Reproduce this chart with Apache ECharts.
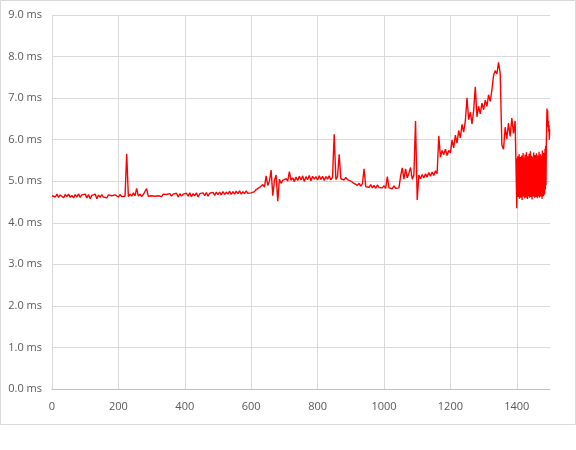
<!DOCTYPE html>
<html>
<head>
<meta charset="utf-8">
<script src="https://cdn.jsdelivr.net/npm/echarts@6/dist/echarts.min.js"></script>
<style>
  html, body { margin: 0; padding: 0; background: #fff; }
  #main { width: 576px; height: 450px; }
</style>
</head>
<body>
<div id="main"></div>
<script>
// y values in ms, one array per stretch of the x axis
// x 0..595, step 5
const flatStart = [
  4.65, 4.68, 4.62, 4.69, 4.61, 4.67, 4.70, 4.60, 4.68, 4.63,
  4.69, 4.61, 4.66, 4.60, 4.68, 4.62, 4.70, 4.61, 4.67, 4.63,
  4.69, 4.60, 4.68, 4.58, 4.66, 4.62, 4.69, 4.58, 4.67, 4.61,
  4.68, 4.62, 4.66, 4.60, 4.67, 4.63, 4.65, 4.61, 4.67, 4.64,
  4.62, 4.68, 4.63, 4.66, 4.64, 5.66, 4.63, 4.69, 4.64, 4.72,
  4.65, 4.83, 4.64, 4.69, 4.63, 4.68, 4.65, 4.82, 4.64, 4.67,
  4.65, 4.68, 4.64, 4.67, 4.65, 4.68, 4.63, 4.69, 4.65, 4.68,
  4.64, 4.70, 4.64, 4.69, 4.65, 4.71, 4.62, 4.70, 4.64, 4.69,
  4.66, 4.71, 4.64, 4.72, 4.63, 4.70, 4.65, 4.72, 4.62, 4.70,
  4.66, 4.72, 4.65, 4.73, 4.64, 4.71, 4.67, 4.73, 4.66, 4.74,
  4.68, 4.74, 4.67, 4.75, 4.68, 4.74, 4.69, 4.76, 4.68, 4.75,
  4.69, 4.76, 4.70, 4.77, 4.69, 4.75, 4.70, 4.77, 4.71, 4.74
];
// x 600..995, step 5
const middle = [
  4.72, 4.76, 4.75, 4.80, 4.79, 4.85, 4.84, 4.92, 4.86, 5.13,
  4.90, 5.00, 5.27, 4.65, 5.02, 5.15, 4.52, 5.05, 4.95, 5.02,
  4.98, 5.06, 5.00, 5.23, 5.02, 5.08, 4.99, 5.10, 5.02, 5.12,
  5.03, 5.13, 4.99, 5.11, 5.04, 5.14, 5.01, 5.12, 5.05, 5.11,
  5.03, 5.13, 5.04, 5.12, 5.02, 5.11, 5.05, 5.13, 5.03, 5.10,
  6.13, 5.04, 5.11, 5.65, 5.06, 5.10, 5.03, 5.09, 5.04, 5.08,
  5.00, 5.03, 4.95, 4.98, 4.90, 4.95, 4.88, 4.94, 5.30, 4.87,
  4.91, 4.85, 4.92, 4.84, 4.90, 4.83, 4.91, 4.85, 4.89, 4.84
];
// x 1000..1395, step 5
const rising = [
  4.89, 4.83, 5.11, 4.84, 4.88, 4.82, 4.89, 4.83, 4.87, 4.84,
  5.12, 5.32, 5.05, 5.30, 5.08, 5.20, 5.33, 5.05, 5.15, 6.45,
  4.55, 5.15, 5.06, 5.16, 5.08, 5.18, 5.10, 5.21, 5.12, 5.22,
  5.14, 5.25, 5.18, 6.09, 5.58, 5.74, 5.64, 5.77, 5.62, 5.74,
  5.68, 5.99, 5.80, 6.11, 5.92, 6.22, 6.04, 6.37, 6.18, 6.45,
  7.01, 6.48, 6.66, 6.38, 6.70, 7.27, 6.55, 6.80, 6.62, 6.88,
  6.72, 6.95, 6.80, 7.08, 6.92, 7.20, 7.55, 7.66, 7.58, 7.86,
  7.60, 5.87, 5.77, 6.30, 6.02, 6.40, 6.08, 6.52, 6.15, 6.45
];
// x 1400..1499, step 1
const noisyEnd = [
  4.35,
  5.55, 4.70, 5.60, 4.62, 5.45, 4.75, 5.65, 4.58, 5.50, 4.68,
  5.58, 4.60, 5.40, 4.72, 5.62, 4.55, 5.52, 4.66, 5.68, 4.63,
  5.47, 4.74, 5.57, 4.59, 5.64, 4.69, 5.42, 4.61, 5.70, 4.65,
  5.53, 4.57, 5.60, 4.71, 5.48, 4.64, 5.66, 4.60, 5.55, 4.73,
  5.72, 4.62, 5.50, 4.67, 5.61, 4.56, 5.58, 4.70, 5.45, 4.63,
  5.69, 4.66, 5.54, 4.60, 5.63, 4.74, 5.51, 4.62, 5.67, 4.65,
  5.56, 4.59, 5.62, 4.70, 5.49, 4.64, 5.71, 4.61, 5.58, 4.68,
  5.65, 4.63, 5.52, 4.66, 5.60, 4.58, 5.74, 4.72, 5.57, 4.64,
  5.68, 4.67, 5.62, 4.70, 5.78, 4.80, 5.85, 4.90,
  5.90, 6.40, 6.75, 6.55, 6.70, 6.30, 6.45, 6.20, 6.35, 6.00, 6.25
];

const segments = [
  { start: 0, step: 5, values: flatStart },
  { start: 600, step: 5, values: middle },
  { start: 1000, step: 5, values: rising },
  { start: 1400, step: 1, values: noisyEnd }
];

const points = [];
segments.forEach(function (seg) {
  seg.values.forEach(function (v, i) {
    points.push([seg.start + i * seg.step, v]);
  });
});

const chart = echarts.init(document.getElementById('main'));
const labelFont = {
  color: '#595959',
  fontSize: 11,
  fontFamily: 'Open Sans'
};

chart.setOption({
  animation: false,
  backgroundColor: '#fff',
  graphic: [
    {
      type: 'rect',
      shape: { x: 0.5, y: 0.5, width: 575, height: 424 },
      style: { fill: 'none', stroke: '#d9d9d9', lineWidth: 1 },
      silent: true
    }
  ],
  grid: {
    left: 52,
    right: 26,
    top: 15,
    bottom: 61
  },
  xAxis: {
    type: 'value',
    min: 0,
    max: 1500,
    interval: 200,
    axisLine: { show: true, lineStyle: { color: '#bfbfbf' } },
    axisTick: { show: false },
    axisLabel: Object.assign({
      margin: 12,
      showMaxLabel: false,
      formatter: function (v) {
        return String(v);
      }
    }, labelFont),
    splitLine: {
      show: true,
      showMaxLine: false,
      lineStyle: { color: '#d9d9d9' }
    }
  },
  yAxis: {
    type: 'value',
    min: 0,
    max: 9,
    interval: 1,
    axisLine: { show: false },
    axisTick: { show: false },
    axisLabel: Object.assign({
      margin: 10,
      formatter: function (v) {
        return v.toFixed(1) + ' ms';
      }
    }, labelFont),
    splitLine: { lineStyle: { color: '#d9d9d9' } }
  },
  series: [
    {
      type: 'line',
      data: points,
      symbol: 'none',
      lineStyle: { color: '#ff0000', width: 1.4 },
      itemStyle: { color: '#ff0000' }
    }
  ]
});
</script>
</body>
</html>
